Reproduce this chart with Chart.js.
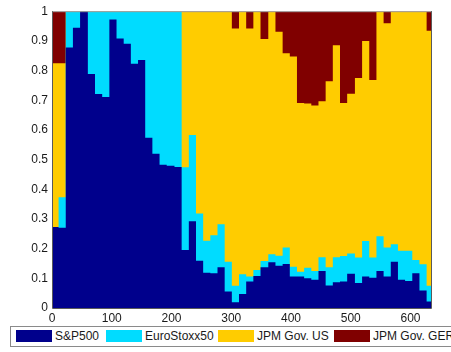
<!DOCTYPE html>
<html>
<head>
<meta charset="utf-8">
<script src="https://cdn.jsdelivr.net/npm/chart.js@4.4.1/dist/chart.umd.min.js"></script>
<style>
  html, body { margin: 0; padding: 0; background: #fff; overflow: hidden; width: 451px; height: 352px; }
  #wrap { position: absolute; left: 0; top: 0; width: 451px; height: 352px; }
  #legend { position: absolute; left: 10px; top: 326px; width: 480px; height: 19px; border: 1px solid #8a8a8a; background: #fff; }
  .sw { position: absolute; top: 3px; width: 36px; height: 12px; }
  .lb { position: absolute; top: 2px; font: 12px "Liberation Sans", Arial, sans-serif; color: #1a1a1a; line-height: 14px; white-space: nowrap; }
</style>
</head>
<body>
<div id="wrap"><canvas id="c" width="451" height="352"></canvas></div>
<div id="legend"></div>
<script>
// Rebalancing dates (start of each holding period) and the end of the sample
const periodStart = [0, 11, 23, 35, 47, 60, 72, 84, 96, 108, 120, 132, 144, 156, 168, 180, 192, 205, 217, 229, 241, 253, 265, 277, 289, 301, 313, 325, 337, 349, 362, 374, 386, 398, 410, 422, 434, 446, 458, 470, 482, 494, 507, 519, 531, 543, 555, 567, 579, 591, 603, 615, 627];
const sampleEnd = 636;

const seriesNames = ["S&P500", "EuroStoxx50", "JPM Gov. US", "JPM Gov. GER"];
const colors = ["#00008c", "#00dcff", "#ffcc00", "#800000"];

const sp500 = [0.273, 0.270, 0.878, 0.944, 1.000, 0.788, 0.721, 0.711, 0.972, 0.908, 0.890, 0.823, 0.836, 0.574, 0.520, 0.483, 0.479, 0.475, 0.195, 0.292, 0.159, 0.119, 0.117, 0.137, 0.056, 0.019, 0.047, 0.089, 0.108, 0.137, 0.154, 0.142, 0.148, 0.106, 0.106, 0.100, 0.095, 0.125, 0.076, 0.087, 0.089, 0.115, 0.084, 0.106, 0.102, 0.125, 0.106, 0.156, 0.095, 0.091, 0.117, 0.059, 0.022];
const euroStoxx = [0.000, 0.103, 0.122, 0.056, 0.000, 0.212, 0.279, 0.289, 0.028, 0.092, 0.110, 0.177, 0.164, 0.426, 0.480, 0.517, 0.521, 0.525, 0.279, 0.291, 0.159, 0.108, 0.128, 0.145, 0.100, 0.056, 0.067, 0.017, 0.020, 0.021, 0.027, 0.034, 0.056, 0.033, 0.016, 0.036, 0.030, 0.046, 0.061, 0.084, 0.086, 0.069, 0.086, 0.120, 0.068, 0.117, 0.098, 0.059, 0.098, 0.102, 0.045, 0.088, 0.053];
const govUS = [0.552, 0.452, 0, 0, 0, 0, 0, 0, 0, 0, 0, 0, 0, 0, 0, 0, 0, 0, 0.526, 0.417, 0.682, 0.773, 0.755, 0.718, 0.844, 0.867, 0.886, 0.836, 0.872, 0.748, 0.819, 0.755, 0.654, 0.708, 0.569, 0.553, 0.557, 0.526, 0.627, 0.714, 0.516, 0.538, 0.605, 0.674, 0.598, 0.758, 0.755, 0.785, 0.807, 0.807, 0.838, 0.853, 0.859];
const govGER = [0.175, 0.175, 0, 0, 0, 0, 0, 0, 0, 0, 0, 0, 0, 0, 0, 0, 0, 0, 0, 0, 0, 0, 0, 0, 0, 0.058, 0, 0.058, 0, 0.094, 0, 0.069, 0.142, 0.153, 0.309, 0.311, 0.318, 0.303, 0.236, 0.115, 0.309, 0.278, 0.225, 0.100, 0.232, 0, 0.041, 0, 0, 0, 0, 0, 0.066];

const xTicks = [0, 100, 200, 300, 400, 500, 600];
const yTicks = [0, 0.1, 0.2, 0.3, 0.4, 0.5, 0.6, 0.7, 0.8, 0.9, 1];

function toPoints(vals) {
  const pts = periodStart.map((x, i) => ({ x: x, y: vals[i] }));
  pts.push({ x: sampleEnd, y: vals[vals.length - 1] });
  return pts;
}

const allSeries = [sp500, euroStoxx, govUS, govGER];

const boxPlugin = {
  id: 'box',
  afterDatasetsDraw(chart) {
    const a = chart.chartArea, ctx = chart.ctx;
    ctx.save();
    ctx.lineWidth = 1;
    ctx.strokeStyle = '#a0a0a0';
    ctx.beginPath(); ctx.moveTo(a.left, a.top + 0.5); ctx.lineTo(a.right, a.top + 0.5); ctx.stroke();
    ctx.strokeStyle = '#5a5a5a';
    ctx.beginPath();
    ctx.moveTo(a.left + 0.5, a.top); ctx.lineTo(a.left + 0.5, a.bottom + 0.5);
    ctx.lineTo(a.right - 0.5, a.bottom + 0.5); ctx.lineTo(a.right - 0.5, a.top);
    ctx.stroke();
    ctx.restore();
  }
};

new Chart(document.getElementById('c'), {
  type: 'line',
  data: {
    datasets: allSeries.map((vals, i) => ({
      label: seriesNames[i],
      data: toPoints(vals),
      stepped: 'before',
      backgroundColor: colors[i],
      borderColor: colors[i],
      borderWidth: 0,
      pointRadius: 0,
      fill: 'origin',
      tension: 0
    }))
  },
  options: {
    responsive: false,
    animation: false,
    devicePixelRatio: 1,
    layout: { padding: { top: 9, right: 19, left: 0, bottom: 0 } },
    plugins: { legend: { display: false }, tooltip: { enabled: false } },
    scales: {
      x: {
        type: 'linear', min: 0, max: sampleEnd,
        grid: { display: false, drawTicks: false },
        border: { display: false },
        afterFit(s) { s.height = 44; },
        afterBuildTicks(s) { s.ticks = xTicks.map(v => ({ value: v })); },
        ticks: { includeBounds: false, padding: 3, color: '#1a1a1a', maxRotation: 0, autoSkip: false,
                 font: { family: '"Liberation Sans", Arial, sans-serif', size: 12 } }
      },
      y: {
        type: 'linear', min: 0, max: 1, stacked: true,
        grid: { display: false, drawTicks: false },
        border: { display: false },
        afterFit(s) { s.width = 52; },
        afterBuildTicks(s) { s.ticks = yTicks.map(v => ({ value: v })); },
        ticks: { padding: 4, color: '#1a1a1a', autoSkip: false,
                 callback: v => String(Math.round(v * 10) / 10),
                 font: { family: '"Liberation Sans", Arial, sans-serif', size: 12 } }
      }
    }
  },
  plugins: [boxPlugin]
});

// Legend (HTML, real text)
const legend = document.getElementById('legend');
const swLeft = [5, 95, 207, 323];
const lbLeft = [44, 134, 246, 362];
seriesNames.forEach((n, i) => {
  const s = document.createElement('div');
  s.className = 'sw'; s.style.left = swLeft[i] + 'px'; s.style.background = colors[i];
  legend.appendChild(s);
  const t = document.createElement('div');
  t.className = 'lb'; t.style.left = lbLeft[i] + 'px'; t.textContent = n;
  legend.appendChild(t);
});
</script>
</body>
</html>
